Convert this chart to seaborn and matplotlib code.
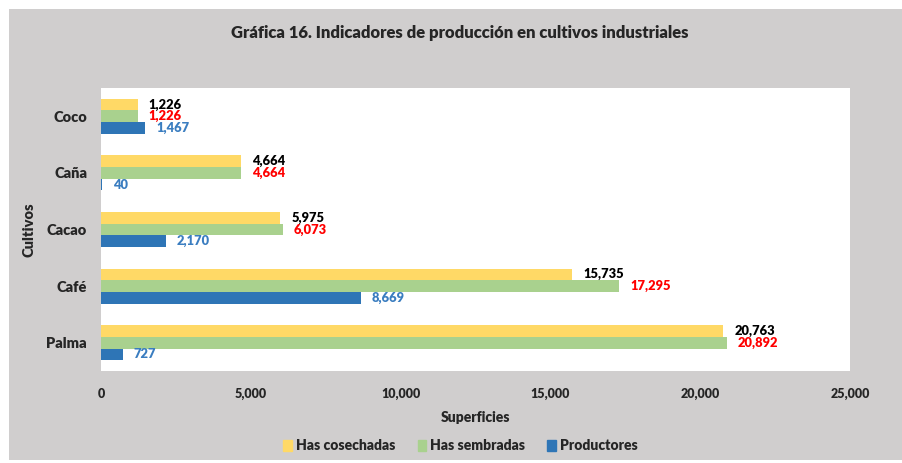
import numpy as np
import pandas as pd
import matplotlib.pyplot as plt
import seaborn as sns
from matplotlib.patches import Rectangle

cultivos = ["Coco", "Caña", "Cacao", "Café", "Palma"]
has_cosechadas = [1226, 4664, 5975, 15735, 20763]
has_sembradas = [1226, 4664, 6073, 17295, 20892]
productores = [1467, 40, 2170, 8669, 727]

series = ["Has cosechadas", "Has sembradas", "Productores"]
colores = ["#FFD966", "#A9D18E", "#2E75B6"]
colores_txt = ["black", "#FF0000", "#3A7DC0"]

df = pd.DataFrame({
    "Cultivo": cultivos * 3,
    "Serie": np.repeat(series, len(cultivos)),
    "Valor": has_cosechadas + has_sembradas + productores,
})

sns.set_style("white")
plt.rcParams["font.family"] = ["Lato", "DejaVu Sans"]
plt.rcParams["font.weight"] = "bold"

fig, ax = plt.subplots(figsize=(9.03, 4.63), dpi=100)
fig.patch.set_facecolor("white")
fig.patches.append(Rectangle((9 / 903, 3 / 463), 894 / 903, 451 / 463,
                             transform=fig.transFigure, facecolor="#D0CECE",
                             edgecolor="none", zorder=-10))
fig.subplots_adjust(left=101 / 903, right=850 / 903, top=1 - 88 / 463, bottom=1 - 371 / 463)

sns.barplot(data=df, y="Cultivo", x="Valor", hue="Serie", order=cultivos,
            hue_order=series, palette=colores, orient="h", width=0.62,
            saturation=1, linewidth=0, ax=ax, legend=False)

for cont, col in zip(ax.containers, colores_txt):
    vals = [b.get_width() for b in cont]
    ax.bar_label(cont, labels=[f"{v:,.0f}" for v in vals], padding=8,
                 color=col, fontweight="heavy", fontsize=9.3)

ax.set_xlim(0, 25000)
ax.set_xticks(range(0, 25001, 5000))
ax.set_xticklabels([f"{t:,}" for t in range(0, 25001, 5000)])
ax.tick_params(axis="x", length=0, labelsize=9, pad=12)
ax.tick_params(axis="y", length=0, labelsize=10.5, pad=10)
for lab in ax.get_xticklabels() + ax.get_yticklabels():
    lab.set_fontweight("heavy")
for s in ax.spines.values():
    s.set_visible(False)

ax.set_xlabel("Superficies", fontsize=10, fontweight="heavy", labelpad=8)
ax.set_ylabel("Cultivos", fontsize=10.5, fontweight="heavy", labelpad=8)

fig.text(0.509, 1 - 33 / 463, "Gráfica 16. Indicadores de producción en cultivos industriales",
         ha="center", va="center", fontsize=12, fontweight="heavy")

handles = [Rectangle((0, 0), 1, 1, color=c) for c in colores]
fig.legend(handles, series, loc="center", bbox_to_anchor=(0.51, 1 - 446 / 463), ncol=3,
           frameon=False, handlelength=0.6, handleheight=0.9, handletextpad=0.3,
           columnspacing=1.6, prop={"weight": "heavy", "size": 10})

fig.savefig("out.png", dpi=100, facecolor=fig.get_facecolor())
